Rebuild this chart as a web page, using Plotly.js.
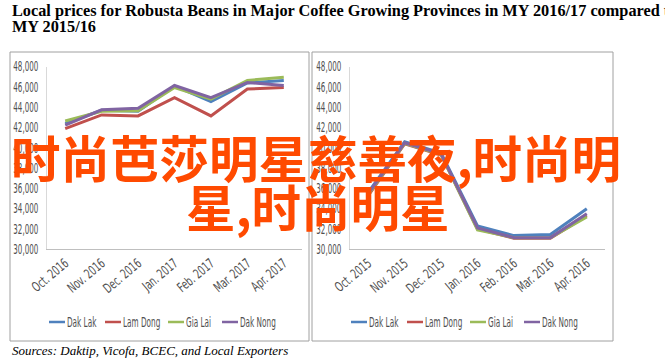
<!DOCTYPE html>
<html>
<head>
<meta charset="utf-8">
<script src="https://cdn.plot.ly/plotly-3.0.1.min.js"></script>
<style>
html,body{margin:0;padding:0;background:#fff;overflow:hidden;}
#chart{width:665px;height:359px;}
</style>
</head>
<body>
<div id="chart"></div>
<script>
// ---- data ----
var seriesNames = ["Dak Lak", "Lam Dong", "Gia Lai", "Dak Nong"];
var seriesColors = ["#4F81BD", "#C0504D", "#9BBB59", "#8064A2"];

var months1617 = ["Oct. 2016", "Nov. 2016", "Dec. 2016", "Jan. 2017", "Feb. 2017", "Mar. 2017", "Apr. 2017"];
var dakLak1617  = [42400, 43700, 43600, 46100, 44550, 46400, 46650];
var lamDong1617 = [41900, 43250, 43150, 44950, 43150, 45800, 45950];
var giaLai1617  = [42650, 43600, 43650, 45950, 44800, 46650, 46950];
var dakNong1617 = [42250, 43750, 43900, 46150, 44950, 46450, 46150];

var months1516 = ["Oct. 2015", "Nov. 2015", "Dec. 2015", "Jan. 2016", "Feb. 2016", "Mar. 2016", "Apr. 2016"];
var dakLak1516  = [35600, 40600, 39500, 32300, 31350, 31450, 34000];
var lamDong1516 = [35300, 40400, 39300, 32000, 31100, 31100, 33300];
var giaLai1516  = [35400, 40450, 39350, 31900, 31150, 31150, 33200];
var dakNong1516 = [35500, 40500, 39400, 32100, 31150, 31150, 33500];

var yTickVals = [30000, 32000, 34000, 36000, 38000, 40000, 42000, 44000, 46000, 48000];

var titleLine1 = "Local prices for Robusta Beans in Major Coffee Growing Provinces in MY 2016/17 compared to";
var titleLine2 = "MY 2015/16";
var sourceText = "Sources: Daktip, Vicofa, BCEC, and Local Exporters";
var overlayLine1 = "时尚芭莎明星慈善夜,时尚明";
var overlayLine2 = "星,时尚明星";

// ---- helpers (page pixels -> paper) ----
var W = 665, H = 359;
function px(x){ return x / W; }
function py(y){ return 1 - y / H; }

var cond = "'DejaVu Sans Condensed', 'DejaVu Sans', sans-serif";
var tickFont = {family: cond, size: 13.5, color: "#505050"};
var serif = "'Liberation Serif', 'Times New Roman', serif";
var redFont = {family: "'Noto Sans CJK SC', sans-serif", size: 49.5, color: "#ff4a00", weight: "bold"};

var data1617 = [dakLak1617, lamDong1617, giaLai1617, dakNong1617];
var data1516 = [dakLak1516, lamDong1516, giaLai1516, dakNong1516];

var traces = [];
for (var i = 0; i < seriesNames.length; i++) {
  traces.push({
    type: "scatter", mode: "lines", name: seriesNames[i],
    x: months1617, y: data1617[i], xaxis: "x", yaxis: "y",
    line: {color: seriesColors[i], width: 3}, hoverinfo: "skip", showlegend: false
  });
}
for (var j = 0; j < seriesNames.length; j++) {
  traces.push({
    type: "scatter", mode: "lines", name: seriesNames[j],
    x: months1516, y: data1516[j], xaxis: "x2", yaxis: "y2",
    line: {color: seriesColors[j], width: 3}, hoverinfo: "skip", showlegend: false
  });
}

function xAxis(dom, anchor){
  return {
    domain: dom, anchor: anchor, type: "category", range: [-0.5, 6.5],
    showline: true, linecolor: "#bfbfbf", linewidth: 1,
    showgrid: false, zeroline: false, ticks: "",
    tickangle: -40, tickfont: tickFont, automargin: false, fixedrange: true
  };
}
function yAxis(dom, anchor){
  return {
    domain: dom, anchor: anchor, range: [30000, 48000],
    tickvals: yTickVals, tickformat: ",d",
    showline: true, linecolor: "#d9d9d9", linewidth: 1,
    showgrid: false, zeroline: false, ticks: "", ticklabelstandoff: 5,
    tickfont: tickFont, automargin: false, fixedrange: true
  };
}

var yDom = [py(249.3), py(66.7)];

// chart boxes (page px) and legend entry offsets inside each box
var boxes = [{l: 10, r: 309}, {l: 312, r: 613}];
var boxTop = 52, boxBottom = 341, legendY = 322;
var legendOffsets = [39, 95, 158, 212];

var shapes = [], annotations = [];
boxes.forEach(function(b){
  shapes.push({type: "rect", xref: "paper", yref: "paper", x0: px(b.l), x1: px(b.r),
    y0: py(boxBottom), y1: py(boxTop), line: {color: "#a0a0a0", width: 1},
    fillcolor: "rgba(0,0,0,0)", layer: "below"});
  seriesNames.forEach(function(name, k){
    var x0 = b.l + legendOffsets[k];
    shapes.push({type: "line", xref: "paper", yref: "paper", x0: px(x0), x1: px(x0 + 16),
      y0: py(legendY), y1: py(legendY), line: {color: seriesColors[k], width: 2.5}});
    annotations.push({text: name, xref: "paper", yref: "paper", x: px(x0 + 17), y: py(legendY),
      xanchor: "left", yanchor: "middle", align: "left", showarrow: false, borderpad: 0,
      font: tickFont});
  });
});

annotations.push(
  {text: titleLine1, xref: "paper", yref: "paper", x: px(11), y: py(10.5), xanchor: "left", yanchor: "middle",
   align: "left", showarrow: false, borderpad: 0, font: {family: serif, size: 16.3, color: "#000", weight: "bold"}},
  {text: titleLine2, xref: "paper", yref: "paper", x: px(11), y: py(26), xanchor: "left", yanchor: "middle",
   align: "left", showarrow: false, borderpad: 0, font: {family: serif, size: 16.3, color: "#000", weight: "bold"}},
  {text: sourceText, xref: "paper", yref: "paper", x: px(11), y: py(350.5), xanchor: "left", yanchor: "middle",
   align: "left", showarrow: false, borderpad: 0, font: {family: serif, size: 13, color: "#000", style: "italic"}},
  {text: overlayLine1, xref: "paper", yref: "paper", x: px(316), y: py(156), xanchor: "center", yanchor: "middle",
   showarrow: false, borderpad: 0, font: redFont},
  {text: overlayLine2, xref: "paper", yref: "paper", x: px(318), y: py(205), xanchor: "center", yanchor: "middle",
   showarrow: false, borderpad: 0, font: redFont}
);

var layout = {
  width: W, height: H,
  margin: {l: 0, r: 0, t: 0, b: 0, pad: 0},
  paper_bgcolor: "#ffffff", plot_bgcolor: "rgba(0,0,0,0)",
  showlegend: false,
  xaxis: xAxis([px(47), px(302)], "y"),
  yaxis: yAxis(yDom, "x"),
  xaxis2: xAxis([px(350), px(605)], "y2"),
  yaxis2: yAxis(yDom, "x2"),
  shapes: shapes,
  annotations: annotations
};

// narrow the label lettering to the condensed look of the original
function squeeze(nodes, factor){
  nodes.forEach(function(n){
    var L = n.getComputedTextLength();
    if (L > 0) {
      n.setAttribute("textLength", (L * factor).toFixed(2));
      n.setAttribute("lengthAdjust", "spacingAndGlyphs");
    }
  });
}

Plotly.newPlot("chart", traces, layout, {staticPlot: true, displayModeBar: false}).then(function(gd){
  var yt = Array.prototype.slice.call(gd.querySelectorAll(".ytick text, .y2tick text"));
  var xt = Array.prototype.slice.call(gd.querySelectorAll(".xtick text, .x2tick text"));
  var lt = Array.prototype.slice.call(gd.querySelectorAll("text.annotation-text")).filter(function(n){
    return seriesNames.indexOf(n.textContent) >= 0;
  });
  var yRef = yt.length ? yt[yt.length - 1].getComputedTextLength() : 25;   // "48,000"
  var xRef = xt.length ? xt[0].getComputedTextLength() : 43;               // "Oct. 2016"
  var yf = 25 / yRef, xf = 43 / xRef;
  squeeze(yt, yf);
  squeeze(lt, yf * 1.02);
  squeeze(xt, xf);
});
</script>
</body>
</html>
